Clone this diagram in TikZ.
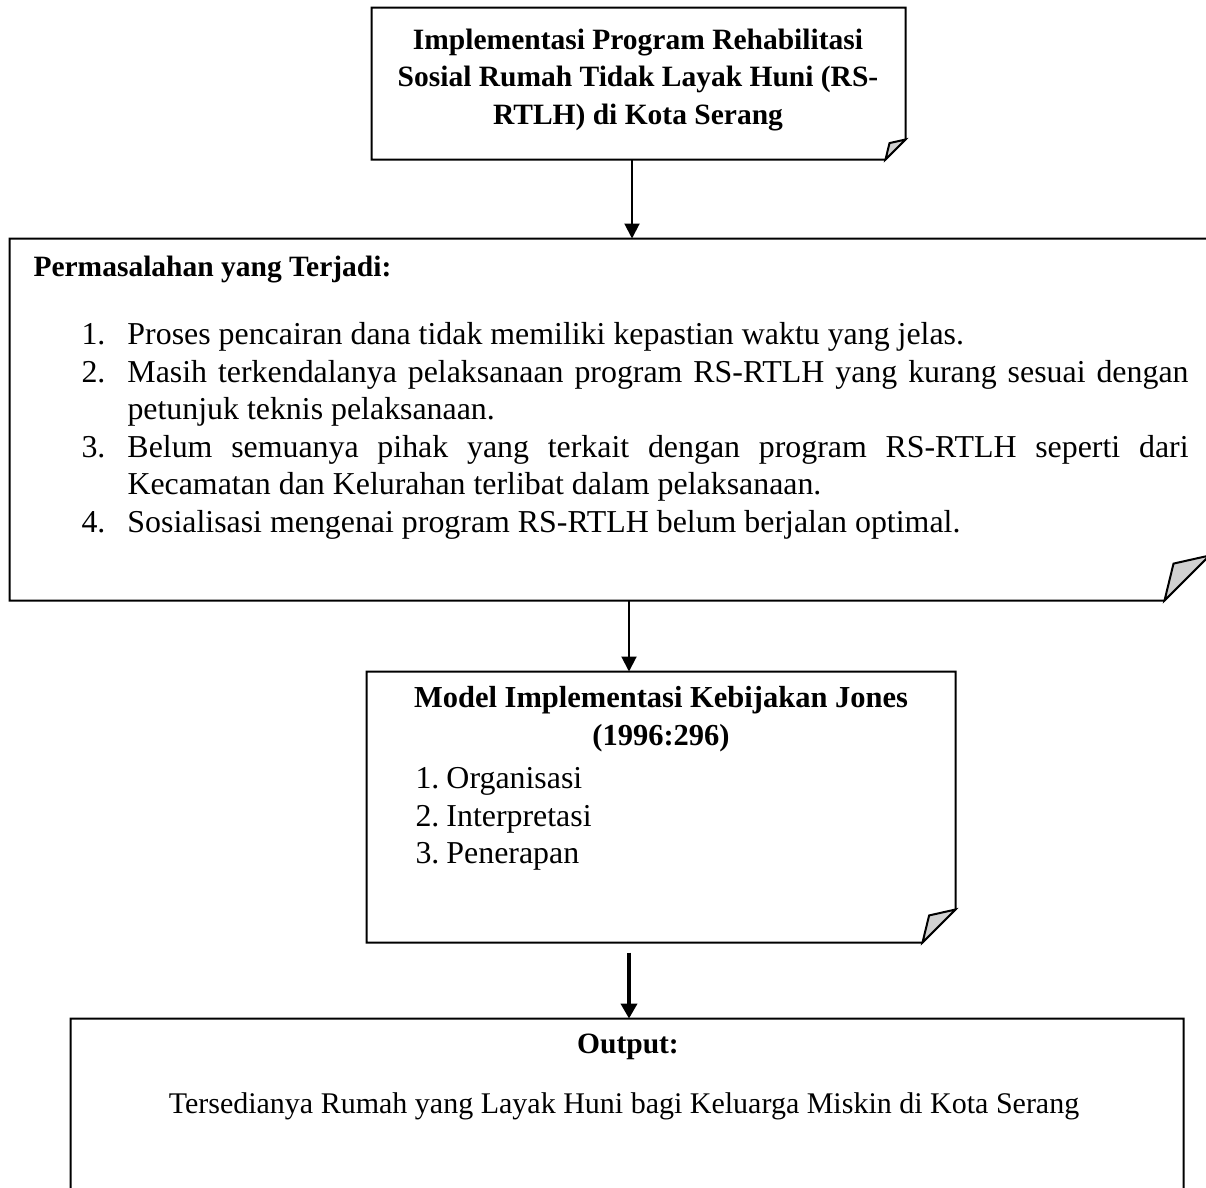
\documentclass[tikz,border=0pt]{standalone}
\usepackage{fontspec}
\setmainfont{Liberation Serif}
\usetikzlibrary{arrows.meta,fit,calc}
\definecolor{foldgray}{RGB}{208,208,208}
\newcommand\foldbox[2]{%
  \draw[boxline] (#1.north west) -- (#1.north east) -- ([yshift=#2]#1.south east)
    -- ([xshift=-#2]#1.south east) -- (#1.south west) -- cycle;
  \draw[boxline, fill=foldgray] ([xshift=-#2]#1.south east)
    -- ([xshift=-0.8*#2, yshift=0.82*#2]#1.south east) -- ([yshift=#2]#1.south east) -- cycle;}
\begin{document}
\begin{tikzpicture}[x=0.4pt,y=-0.4pt,
  boxline/.style={line width=0.8pt, line join=miter},
  arr/.style={line width=0.8pt, -{Triangle[length=6pt,width=6pt]}},
  thickarr/.style={line width=1.3pt, -{Triangle[length=6pt,width=6.5pt]}},
  frame/.style={inner sep=0pt},
  txt/.style={font=\fontsize{12.75}{15}\selectfont, inner sep=0pt},
  stxt/.style={font=\fontsize{12}{15}\selectfont, inner sep=0pt},
  btxt/.style={font=\fontsize{11.8}{15}\selectfont\bfseries, inner sep=0pt}]
\useasboundingbox (0,0) rectangle (1206,1187);
\clip (0,0) rectangle (1206,1187);

% boxes
\node[frame, fit={(372,8) (905,159)}] (b1) {};
\node[frame, fit={(10,239) (1209,600)}] (b2) {};
\node[frame, fit={(367,672) (955,942)}] (b3) {};
\node[frame, fit={(71,1019) (1183,1222)}] (b4) {};
\foldbox{b1}{8pt}
\foldbox{b2}{18pt}
\foldbox{b3}{13.2pt}
\foldbox{b4}{10pt}

% texts
\node[btxt, align=center] (t1) at (638,80) {Implementasi Program Rehabilitasi\\Sosial Rumah Tidak Layak Huni (RS-\\RTLH) di Kota Serang};

\node[btxt, anchor=west] (h2) at (33,270) {Permasalahan yang Terjadi:};
\node[txt, anchor=north west, text width=442.8pt, align=justify] (l2) at (81,322) {%
\hangindent=18.4pt\hangafter=1\makebox[18.4pt][l]{1.}Proses pencairan dana tidak memiliki kepastian waktu yang jelas.\par
\hangindent=18.4pt\hangafter=1\makebox[18.4pt][l]{2.}Masih terkendalanya pelaksanaan program RS-RTLH yang kurang sesuai dengan\linebreak petunjuk teknis pelaksanaan.\par
\hangindent=18.4pt\hangafter=1\makebox[18.4pt][l]{3.}Belum semuanya pihak yang terkait dengan program RS-RTLH seperti dari\linebreak Kecamatan dan Kelurahan terlibat dalam pelaksanaan.\par
\hangindent=18.4pt\hangafter=1\makebox[18.4pt][l]{4.}Sosialisasi mengenai program RS-RTLH belum berjalan optimal.\par};

\node[btxt, font=\fontsize{12.2}{15}\selectfont\bfseries, align=center] (t3) at (661,719) {Model Implementasi Kebijakan Jones\\(1996:296)};
\node[txt, anchor=north west, align=left] (l3) at (415,767) {%
\makebox[12.4pt][l]{1.}Organisasi\\
\makebox[12.4pt][l]{2.}Interpretasi\\
\makebox[12.4pt][l]{3.}Penerapan};

\node[btxt] (h4) at (628,1047) {Output:};
\node[stxt] (t4) at (624,1106) {Tersedianya Rumah yang Layak Huni bagi Keluarga Miskin di Kota Serang};

% connectors
\coordinate (ax1) at (632,0);
\coordinate (ax2) at (629,0);
\draw[arr] (ax1 |- b1.south) -- (ax1 |- b2.north);
\draw[arr] (ax2 |- b2.south) -- (ax2 |- b3.north);
\draw[thickarr, shorten <=4pt] (ax2 |- b3.south) -- (ax2 |- b4.north);
\end{tikzpicture}
\end{document}
